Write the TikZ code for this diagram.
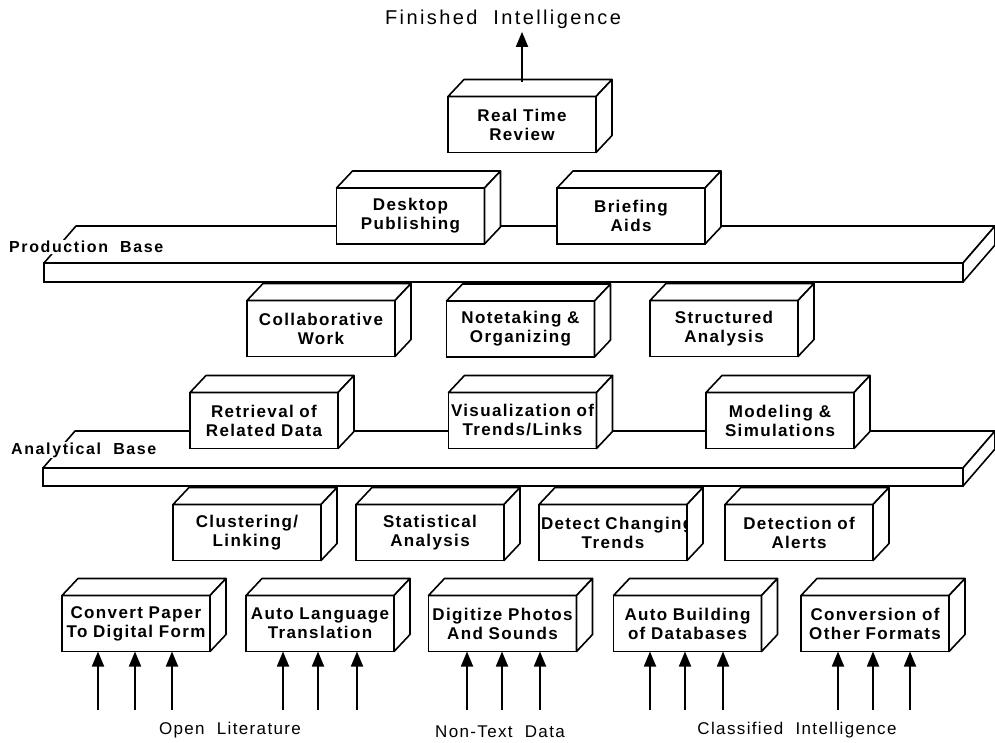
\documentclass[tikz,border=0pt]{standalone}
\usepackage{fontspec}
\setmainfont{Liberation Sans}
\newfontfamily\cajafont[LetterSpace=8,WordSpace=1.6]{Liberation Sans}
\newfontfamily\titulofont[LetterSpace=12,WordSpace=2]{Liberation Sans}
\newfontfamily\fuentefont[LetterSpace=8,WordSpace=2]{Liberation Sans}
\newfontfamily\basefont[LetterSpace=10,WordSpace=2]{Liberation Sans}
\usetikzlibrary{arrows.meta}
\tikzstyle{cara} = [draw, fill=white, line width=1.6pt, rectangle, outer sep=0pt, minimum width=148pt, minimum height=56pt, inner sep=2pt, text width=144pt, align=center, font={\cajafont\bfseries\fontsize{17}{19}\selectfont}]
\tikzstyle{losa} = [draw, fill=white, line width=1.6pt, rectangle, outer sep=0pt, inner sep=0pt]
\tikzstyle{borde} = [draw, fill=white, line width=1.6pt, line join=round]
\tikzstyle{flecha} = [line width=1.8pt, -{Triangle[length=15pt,width=12pt]}]
\tikzstyle{titulo} = [font={\titulofont\fontsize{20}{23}\selectfont}]
\tikzstyle{fuente} = [font={\fuentefont\fontsize{17}{20}\selectfont}]
\tikzstyle{base} = [fill=white, inner sep=1pt, font={\basefont\bfseries\fontsize{16}{18}\selectfont}]
% caja 3D: cara frontal + tapa + costado
\newcommand{\cubo}[4][16,-17]{%
  \node[#3] (#2) {#4};
  \draw[borde] (#2.north west) -- ++(#1) -- ([shift={(#1)}]#2.north east) -- (#2.north east) -- cycle;
  \draw[borde] (#2.north east) -- ++(#1) -- ([shift={(#1)}]#2.south east) -- (#2.south east) -- cycle;
}

\begin{document}
\begin{tikzpicture}[x=1pt,y=-1pt]
	\useasboundingbox (0,0) rectangle (995,742);
	% fuentes de datos
	\cubo{convert}{cara, at={(136,623.5)}}{\mbox{Convert Paper}\\\mbox{To Digital Form}}
	\cubo{language}{cara, at={(320,623.5)}}{\mbox{Auto Language}\\Translation}
	\cubo{digitize}{cara, at={(502.5,623.5)}}{\mbox{Digitize Photos}\\And Sounds}
	\cubo{building}{cara, at={(687.5,623.5)}}{Auto Building\\of Databases}
	\cubo{conversion}{cara, at={(875,623.5)}}{Conversion of\\\mbox{Other Formats}}
	% bajo la base analitica
	\cubo{clustering}{cara, at={(247,532.5)}}{Clustering/\\Linking}
	\cubo{statistical}{cara, at={(430,532.5)}}{Statistical\\Analysis}
	\cubo{detect}{cara, at={(613,532.5)}}{\mbox{Detect Changing}\\Trends}
	\cubo{alerts}{cara, at={(799,532.5)}}{Detection of\\Alerts}
	\cubo[32,-37]{anabase}{losa, minimum width=920pt, minimum height=18pt, at={(503,477)}}{}
	\cubo{retrieval}{cara, at={(264,420.5)}}{Retrieval of\\Related Data}
	\cubo{visual}{cara, at={(522.5,420.5)}}{\mbox{Visualization of}\\Trends/Links}
	\cubo{modeling}{cara, at={(780,420.5)}}{Modeling \&\\Simulations}
	% bajo la base de produccion
	\cubo{collab}{cara, at={(321,328.5)}}{Collaborative\\Work}
	\cubo{notetaking}{cara, at={(520.5,329)}}{Notetaking \&\\Organizing}
	\cubo{structured}{cara, at={(724,328.5)}}{Structured\\Analysis}
	\cubo[32,-37]{prodbase}{losa, minimum width=919pt, minimum height=19pt, at={(503.5,272.5)}}{}
	\cubo{desktop}{cara, at={(410.5,216)}}{Desktop\\Publishing}
	\cubo{briefing}{cara, at={(631,216)}}{Briefing\\Aids}
	\cubo{review}{cara, at={(522,124.5)}}{Real Time\\Review}
	% rotulos
	\node[base, anchor=west] (prodlabel) at (8,247) {Production Base};
	\node[base, anchor=west] (analabel) at (10,450) {Analytical Base};
	\node[titulo] (fin) at (503,19) {Finished Intelligence};
	\node[fuente] (openlit) at (230,730) {Open Literature};
	\node[fuente] (nontext) at (500,732) {Non-Text Data};
	\node[fuente] (classif) at (797,730) {Classified Intelligence};
	% flechas
	\draw[flecha] ([yshift=15pt]review.north) -- (review.north |- fin.south);
	\foreach \b/\xa/\xb/\xc in {convert/98/135/172, language/283/318/357, digitize/467/502/540, building/650/685/723, conversion/838/873/910}{
		\foreach \x in {\xa,\xb,\xc}{
			\coordinate (src) at (\x,710);
			\draw[flecha] (src) -- (src |- \b.south);
		}
	}
\end{tikzpicture}
\end{document}
